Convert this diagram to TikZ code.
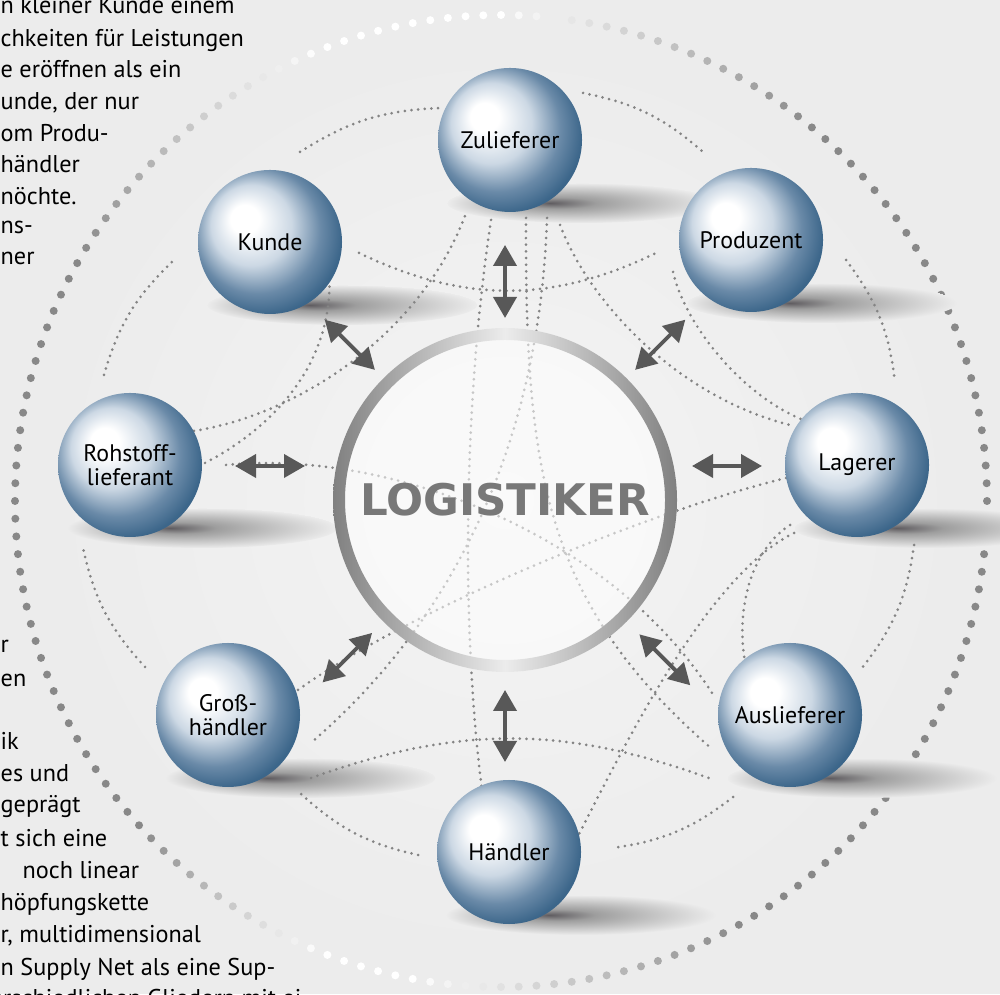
\documentclass[tikz,border=0pt]{standalone}
\usepackage{fontspec}
\setmainfont{PT Sans}
\newfontfamily\logofont{DejaVu Sans}
\usetikzlibrary{arrows.meta,calc}

\definecolor{bg}{RGB}{236,236,236}
\definecolor{bglight}{RGB}{244,244,244}
\definecolor{dotgrey}{RGB}{136,136,136}
\definecolor{webgrey}{RGB}{132,132,132}
\definecolor{arrowgrey}{RGB}{88,88,88}
\definecolor{logogrey}{RGB}{120,120,120}
\definecolor{ringdark}{RGB}{128,128,128}
\definecolor{ringlight}{RGB}{236,236,236}
\definecolor{sphlight}{RGB}{204,216,228}
\definecolor{sphmid}{RGB}{106,138,168}
\definecolor{sphdark}{RGB}{60,102,138}
\definecolor{shadowdark}{RGB}{95,92,96}
\definecolor{shadowmid}{RGB}{158,158,158}

\pgfdeclareradialshading{bluesphere}{\pgfpoint{-10bp}{9bp}}{color(0bp)=(white); color(5bp)=(white); color(14bp)=(sphlight); color(22bp)=(sphmid); color(28bp)=(sphdark); color(40bp)=(sphdark)}
\pgfdeclareradialshading{shadowsh}{\pgfpoint{-6bp}{0bp}}{color(0bp)=(shadowdark); color(7bp)=(shadowmid); color(25bp)=(bg)}

\tikzset{
  sphere/.style={circle, minimum size=1.44cm, inner sep=0pt, shade, shading=bluesphere, align=center, font=\fontsize{6.8}{7.0}\selectfont},
  shadowblob/.style={shade, shading=shadowsh},
  webline/.style={draw=webgrey, line width=0.85pt, line cap=round, dash pattern=on 0pt off 1.9pt},
  biarrow/.style={{Triangle[length=2.1mm,width=2.3mm]}-{Triangle[length=2.1mm,width=2.3mm]}, draw=arrowgrey, line width=1.1pt},
  bodytext/.style={anchor=base west, inner sep=0pt, font=\fontsize{6.9}{8}\selectfont}
}

\begin{document}
\begin{tikzpicture}
  \useasboundingbox (0,0) rectangle (10,9.94);
  \clip (0,0) rectangle (10,9.94);
  \fill[bg] (0,0) rectangle (10,9.94);
  \shade[inner color=bglight, outer color=bg] (5.05,4.94) circle (4.6);

  % big dotted ring
  \foreach \i in {0,...,171} {
    \pgfmathsetmacro\ang{\i*2.0930}
    \pgfmathsetmacro\dk{(\ang<50)*100 + (\ang>=50)*(\ang<90)*(90-\ang)*2.5 + (\ang>=112)*(\ang<150)*(\ang-112)*2.63 + (\ang>=150)*(\ang<222)*100 + (\ang>=222)*(\ang<248)*(248-\ang)*3.85 + (\ang>=260)*(\ang<300)*(\ang-260)*2.5 + (\ang>=300)*100}
    \fill[dotgrey!\dk!white] (5.01,4.93) ++(\ang:4.86) circle (0.04);
  }

  % text cut by the left border
  \node[bodytext] (t1) at (0,9.80) {n kleiner Kunde einem};
  \node[bodytext] (t2) at (0,9.47) {chkeiten für Leistungen};
  \node[bodytext] (t3) at (0,9.16) {e eröffnen als ein};
  \node[bodytext] (t4) at (0,8.84) {unde, der nur};
  \node[bodytext] (t5) at (0,8.52) {om Produ-};
  \node[bodytext] (t6) at (0,8.21) {händler};
  \node[bodytext] (t7) at (0,7.89) {nöchte.};
  \node[bodytext] (t8) at (0,7.60) {ns-};
  \node[bodytext] (t9) at (0,7.29) {ner};
  \node[bodytext] (b1) at (0,3.41) {r};
  \node[bodytext] (b2) at (0,3.07) {en};
  \node[bodytext] (b3) at (0,2.44) {ik};
  \node[bodytext] (b4) at (0,2.12) {es und};
  \node[bodytext] (b5) at (0,1.81) {geprägt};
  \node[bodytext] (b6) at (0,1.47) {t sich eine};
  \node[bodytext] (b7) at (0.22,1.16) {noch linear};
  \node[bodytext] (b8) at (0,0.84) {höpfungskette};
  \node[bodytext] (b9) at (0,0.52) {r, multidimensional};
  \node[bodytext] (b10) at (0,0.19) {n Supply Net als eine Sup-};
  \node[bodytext, anchor=base east] (b11) at (3.02,-0.12) {unterschiedlichen Gliedern mit ei};

  % shadows
  \shade[shadowblob] (5.82,7.91) ellipse (1.35 and 0.2);
  \shade[shadowblob] (3.42,6.89) ellipse (1.35 and 0.2);
  \shade[shadowblob] (8.22,6.91) ellipse (1.35 and 0.2);
  \shade[shadowblob] (2.02,4.66) ellipse (1.35 and 0.2);
  \shade[shadowblob] (9.29,4.66) ellipse (1.35 and 0.2);
  \shade[shadowblob] (3.00,2.16) ellipse (1.35 and 0.2);
  \shade[shadowblob] (8.62,2.16) ellipse (1.35 and 0.2);
  \shade[shadowblob] (5.81,0.79) ellipse (1.35 and 0.2);

  % outer arcs
  \draw[webline] (3.00,8.42) to[bend left=15] (4.40,8.86);
  \draw[webline] (5.83,9.01) to[bend left=15] (7.03,8.42);
  \draw[webline] (8.46,7.34) to[bend left=15] (8.95,6.12);
  \draw[webline] (9.14,4.49) to[bend left=15] (8.62,3.26);
  \draw[webline] (7.33,1.97) to[bend left=15] (6.12,1.46);
  \draw[webline] (4.18,1.39) to[bend left=15] (3.00,2.01);
  \draw[webline] (1.45,3.27) to[bend left=15] (0.83,4.46);
  \draw[webline] (1.04,6.19) to[bend left=15] (1.72,7.32);

  % web
  \draw[webline] (3.59,7.41) to[bend right=26] (6.60,7.43);
  \draw[webline] (3.11,2.16) to[bend left=20] (7.14,2.14);
  \draw[webline] (4.91,7.74) .. controls (4.62,5.80) and (4.62,3.60) .. (4.82,2.04);
  \draw[webline] (5.26,7.76) .. controls (5.25,5.20) and (5.45,3.90) .. (7.12,2.45);
  \draw[webline] (5.47,7.76) .. controls (5.40,5.60) and (4.60,3.80) .. (3.13,2.53);
  \draw[webline] (1.94,5.63) .. controls (3.00,5.80) and (4.20,6.60) .. (4.65,7.78);
  \draw[webline] (2.05,5.31) .. controls (2.80,5.70) and (3.40,6.40) .. (3.28,7.35);
  \draw[webline] (5.60,7.69) .. controls (5.90,6.90) and (6.80,5.95) .. (7.94,5.68);
  \draw[webline] (6.73,7.22) .. controls (6.85,6.70) and (7.40,6.00) .. (8.03,5.74);
  \draw[webline] (7.86,5.16) .. controls (6.40,4.80) and (4.00,3.80) .. (2.91,2.99);
  \draw[webline] (7.94,4.61) .. controls (7.10,4.20) and (6.30,2.60) .. (5.78,1.58);
  \draw[webline] (7.90,4.69) .. controls (7.45,4.40) and (7.35,3.70) .. (7.47,3.23);
  \draw[webline] (2.26,5.29) .. controls (3.90,5.45) and (6.10,4.60) .. (7.12,3.01);

  % spheres
  \node[sphere] (zul) at (5.10,8.54) {Zulieferer};
  \node[sphere] (kun) at (2.70,7.52) {Kunde};
  \node[sphere] (pro) at (7.51,7.54) {Produzent};
  \node[sphere] (roh) at (1.30,5.29) {Rohstoff-\\lieferant};
  \node[sphere] (lag) at (8.57,5.29) {Lagerer};
  \node[sphere] (gro) at (2.28,2.79) {Groß-\\händler};
  \node[sphere] (aus) at (7.90,2.79) {Auslieferer};
  \node[sphere] (hae) at (5.09,1.42) {Händler};

  % center
  \node[circle, minimum size=3.44cm, fill=white, fill opacity=0.55, text opacity=1, text=logogrey, font=\logofont\bfseries\fontsize{12.4}{14}\selectfont] (logi) at (5.05,4.94) {LOGISTIKER};
  \shade[left color=ringdark, right color=ringdark, middle color=ringlight, even odd rule] (logi.center) circle (1.72) circle (1.60);

  % arrows
  \draw[biarrow] ([shift={(90:2.55)}]logi.center) -- ([shift={(90:1.82)}]logi.center);
  \draw[biarrow] ([shift={(135:2.55)}]logi.center) -- ([shift={(135:1.84)}]logi.center);
  \draw[biarrow] ([shift={(45:2.55)}]logi.center) -- ([shift={(45:1.84)}]logi.center);
  \draw[biarrow] ([shift={(-2.70,0.34)}]logi.center) -- ([shift={(-2.00,0.34)}]logi.center);
  \draw[biarrow] ([shift={(2.57,0.34)}]logi.center) -- ([shift={(1.87,0.34)}]logi.center);
  \draw[biarrow] ([shift={(225:2.58)}]logi.center) -- ([shift={(225:1.88)}]logi.center);
  \draw[biarrow] ([shift={(315:2.62)}]logi.center) -- ([shift={(315:1.90)}]logi.center);
  \draw[biarrow] ([shift={(270:2.62)}]logi.center) -- ([shift={(270:1.90)}]logi.center);
\end{tikzpicture}
\end{document}
